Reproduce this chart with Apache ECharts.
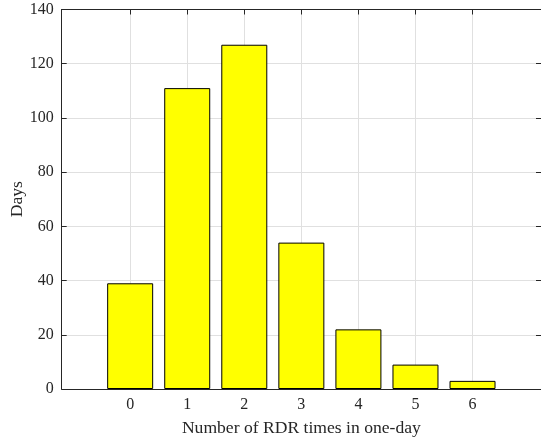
<!DOCTYPE html>
<html>
<head>
<meta charset="utf-8">
<script src="https://cdn.jsdelivr.net/npm/echarts@6/dist/echarts.min.js"></script>
<style>html,body{margin:0;padding:0;background:#fff}#c{width:541px;height:441px}</style>
</head>
<body>
<div id="c"></div>
<script>
const categories = [0, 1, 2, 3, 4, 5, 6];
const days = [39, 111, 127, 54, 22, 9, 3];
const yTicks = [0, 20, 40, 60, 80, 100, 120, 140];
const xTitle = 'Number of RDR times in one-day';
const yTitle = 'Days';

const font = 'Liberation Serif';
const axisColor = '#262626';
const chart = echarts.init(document.getElementById('c'), null, {renderer: 'canvas'});
const data = categories.map((c, i) => [c, days[i]]);

const xCommon = {
  type: 'value', min: -1.2, max: 7.2,
  axisLine: {show: true, onZero: false, lineStyle: {color: axisColor, width: 1}},
  axisTick: {show: true, inside: true, length: 5, customValues: categories, lineStyle: {color: axisColor}},
  axisLabel: {customValues: categories, fontFamily: font, fontSize: 16, color: '#262626', margin: 8},
  splitLine: {show: true, lineStyle: {color: '#e0e0e0', width: 1}}
};
const yCommon = {
  type: 'value', min: 0, max: 140, interval: 20,
  axisLine: {show: true, onZero: false, lineStyle: {color: axisColor, width: 1}},
  axisTick: {show: true, inside: true, length: 5, lineStyle: {color: axisColor}},
  axisLabel: {customValues: yTicks, fontFamily: font, fontSize: 16, color: '#262626', margin: 8},
  splitLine: {show: true, lineStyle: {color: '#e0e0e0', width: 1}}
};

chart.setOption({
  animation: false,
  backgroundColor: '#fff',
  grid: {left: 61.7, right: 0, top: 9.5, bottom: 52, containLabel: false, outerBoundsMode: 'none'},
  xAxis: [
    Object.assign({}, xCommon, {position: 'bottom', name: xTitle, nameLocation: 'middle', nameGap: 30,
      nameMoveOverlap: false,
      nameTextStyle: {fontFamily: font, fontSize: 17.6, color: '#262626'}}),
    Object.assign({}, xCommon, {position: 'top', axisLabel: {show: false}, splitLine: {show: false}})
  ],
  yAxis: [
    Object.assign({}, yCommon, {position: 'left', name: yTitle, nameLocation: 'middle', nameGap: 35,
      nameMoveOverlap: false,
      nameTextStyle: {fontFamily: font, fontSize: 17.6, color: '#262626'}}),
    Object.assign({}, yCommon, {position: 'right', axisLabel: {show: false}, splitLine: {show: false}})
  ],
  series: [{
    type: 'bar',
    xAxisIndex: 0, yAxisIndex: 0,
    data: data,
    barWidth: 46,
    itemStyle: {color: '#ffff00', borderColor: '#000', borderWidth: 1}
  }]
});
</script>
</body>
</html>
